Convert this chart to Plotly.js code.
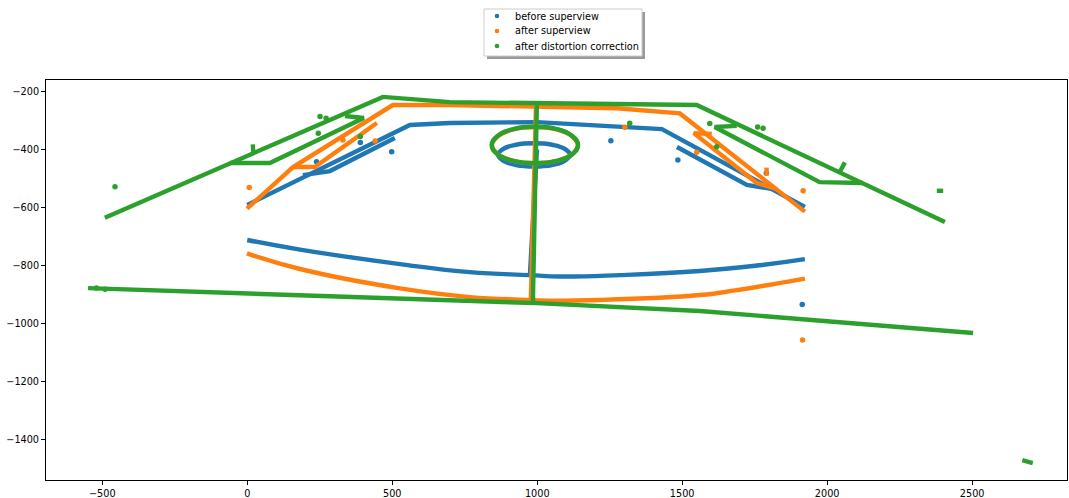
<!DOCTYPE html>
<html>
<head>
<meta charset="utf-8">
<script src="https://cdn.plot.ly/plotly-2.35.2.min.js"></script>
<style>
  html, body { margin: 0; padding: 0; background: #fff; }
  #chart { width: 1069px; height: 498px; }
</style>
</head>
<body>
<div id="chart"></div>
<script>
// ---- before superview ----
const blueOuterX = [0, 561, 699, 999, 1430, 1923];
const blueOuterY = [-591, -315, -308, -305, -329, -598];
const blueLeftBranchX = [192, 285, 509];
const blueLeftBranchY = [-488, -474, -360];
const blueRightBranchX = [1812, 1723, 1482];
const blueRightBranchY = [-536, -522, -391];
const blueVerticalX = [999, 975];
const blueVerticalY = [-400, -829];
const blueBottomX = [0, 182, 527, 768, 975, 1078, 1285, 1561, 1768, 1923];
const blueBottomY = [-712, -745, -795, -823, -833, -838, -833, -819, -799, -778];
const blueRingX = [1113, 1096, 1051, 989, 927, 882, 865, 882, 927, 989, 1051, 1096, 1113];
const blueRingY = [-418, -398, -383, -378, -383, -398, -418, -438, -453, -458, -453, -438, -418];
const blueDotX = [498, 1254, 1485, 1914, 239, 390, 1790];
const blueDotY = [-407, -369, -436, -935, -442, -375, -481];

// ---- after superview ----
const orangeOuterX = [-1, 158, 502, 699, 1274, 1492, 1923];
const orangeOuterY = [-604, -460, -246, -246, -257, -275, -614];
const orangeLeftBranchX = [158, 233, 447];
const orangeLeftBranchY = [-460, -460, -308];
const orangeRightBranchX = [1826, 1757, 1540, 1602];
const orangeRightBranchY = [-536, -515, -343, -346];
const orangeVerticalX = [996, 978];
const orangeVerticalY = [-243, -919];
const orangeBottomX = [-1, 182, 527, 768, 975, 1009, 1216, 1561, 1688, 1923];
const orangeBottomY = [-758, -812, -879, -909, -919, -921, -919, -902, -885, -845];
const orangeRingX = [1140, 1120, 1066, 992, 918, 864, 844, 864, 918, 992, 1066, 1120, 1140];
const orangeRingY = [-385, -354, -330, -322, -330, -354, -385, -416, -439, -447, -439, -416, -385];
const orangeSpurX = [1791, 1791];
const orangeSpurY = [-462, -490];
const orangeDotX = [7, 441, 1302, 1550, 1917, 1915, 330];
const orangeDotY = [-531, -370, -323, -409, -542, -1057, -367];

// ---- after distortion correction ----
const greenOuterX = [-491, 468, 699, 1550, 2406];
const greenOuterY = [-635, -218, -236, -246, -650];
const greenLeftBranchX = [-60, 78, 402, 337];
const greenLeftBranchY = [-446, -446, -291, -284];
const greenRightBranchX = [2123, 1974, 1612, 1688];
const greenRightBranchY = [-515, -512, -322, -318];
const greenVerticalX = [999, 985];
const greenVerticalY = [-232, -930];
const greenBottomX = [-549, 527, 999, 1561, 2503];
const greenBottomY = [-878, -912, -930, -957, -1033];
const greenRingX = [1141, 1121, 1067, 992, 918, 863, 843, 863, 918, 992, 1067, 1121, 1141];
const greenRingY = [-384, -353, -329, -321, -329, -353, -384, -416, -439, -447, -439, -416, -384];
const greenSpurAX = [19, 21];
const greenSpurAY = [-382, -412];
const greenSpurBX = [2043, 2061];
const greenSpurBY = [-478, -444];
const greenFarX = [2673, 2709];
const greenFarY = [-1472, -1482];
const greenDashX = [2378, 2400];
const greenDashY = [-542, -542];
const greenDotX = [-456, 251, 272, 245, 390, 1779, 1760, 1619, 1319, -520, -490, 1595];
const greenDotY = [-528, -286, -292, -343, -355, -326, -322, -390, -309, -878, -882, -310];

// legend labels
const seriesNames = ['before superview', 'after superview', 'after distortion correction'];
const seriesColors = ['#1f77b4', '#ff7f0e', '#2ca02c'];
const [C_BLUE, C_ORANGE, C_GREEN] = seriesColors;

// join several polylines into one trace, separated by gaps
function joinPaths(pairs) {
  const x = [], y = [];
  pairs.forEach(([px, py], i) => {
    if (i > 0) { x.push(null); y.push(null); }
    x.push(...px); y.push(...py);
  });
  return { x, y };
}

function pathTrace(pairs, color, name, shape) {
  const p = joinPaths(pairs);
  return {
    type: 'scatter', mode: 'lines', x: p.x, y: p.y, name,
    line: { color, width: 4.4, shape: shape || 'linear', smoothing: 1.3 },
    connectgaps: false, showlegend: false, hoverinfo: 'skip'
  };
}

function dotTrace(x, y, color, name) {
  return {
    type: 'scatter', mode: 'markers', x, y, name,
    marker: { color, size: 5.5 }, showlegend: false, hoverinfo: 'skip'
  };
}

const traces = [
  pathTrace([[blueOuterX, blueOuterY], [blueLeftBranchX, blueLeftBranchY],
             [blueRightBranchX, blueRightBranchY], [blueVerticalX, blueVerticalY]], C_BLUE, seriesNames[0]),
  pathTrace([[blueBottomX, blueBottomY], [blueRingX, blueRingY]], C_BLUE, seriesNames[0], 'spline'),
  dotTrace(blueDotX, blueDotY, C_BLUE, seriesNames[0]),
  pathTrace([[orangeOuterX, orangeOuterY], [orangeLeftBranchX, orangeLeftBranchY],
             [orangeRightBranchX, orangeRightBranchY], [orangeVerticalX, orangeVerticalY],
             [orangeSpurX, orangeSpurY]], C_ORANGE, seriesNames[1]),
  pathTrace([[orangeBottomX, orangeBottomY], [orangeRingX, orangeRingY]], C_ORANGE, seriesNames[1], 'spline'),
  dotTrace(orangeDotX, orangeDotY, C_ORANGE, seriesNames[1]),
  pathTrace([[greenOuterX, greenOuterY], [greenLeftBranchX, greenLeftBranchY],
             [greenRightBranchX, greenRightBranchY], [greenVerticalX, greenVerticalY],
             [greenBottomX, greenBottomY], [greenSpurAX, greenSpurAY], [greenSpurBX, greenSpurBY],
             [greenFarX, greenFarY], [greenDashX, greenDashY]], C_GREEN, seriesNames[2]),
  pathTrace([[greenRingX, greenRingY]], C_GREEN, seriesNames[2], 'spline'),
  dotTrace(greenDotX, greenDotY, C_GREEN, seriesNames[2])
];

// legend box above the plot, placed in paper coordinates
const plotL = 46, plotT = 80, plotW = 1021, plotH = 400;
const px = v => (v - plotL) / plotW;
const py = v => 1 + (plotT - v) / plotH;

const shapes = [
  { type: 'rect', xref: 'paper', yref: 'paper', x0: px(487), x1: px(645), y0: py(59), y1: py(12),
    fillcolor: '#9a9a9a', line: { width: 0 } },
  { type: 'rect', xref: 'paper', yref: 'paper', x0: px(484), x1: px(642), y0: py(56), y1: py(9),
    fillcolor: '#ffffff', line: { color: '#cccccc', width: 1 } }
];
const annotations = [];
const rowY = [16, 31, 46];
seriesNames.forEach((name, i) => {
  shapes.push({
    type: 'circle', xref: 'paper', yref: 'paper',
    xsizemode: 'pixel', ysizemode: 'pixel',
    xanchor: px(497), yanchor: py(rowY[i]),
    x0: -2.3, x1: 2.3, y0: -2.3, y1: 2.3,
    fillcolor: seriesColors[i], line: { width: 0 }
  });
  annotations.push({
    xref: 'paper', yref: 'paper', x: px(513), y: py(rowY[i]),
    xanchor: 'left', yanchor: 'middle', showarrow: false, text: name,
    font: { family: 'DejaVu Sans', size: 9.7, color: '#000' }
  });
});

const axisCommon = {
  showgrid: false, zeroline: false, showline: true, mirror: true,
  linecolor: '#000', linewidth: 1, ticks: 'outside', ticklen: 4,
  tickcolor: '#000', tickwidth: 1,
  tickfont: { family: 'DejaVu Sans', size: 9.7, color: '#000' }
};

const layout = {
  width: 1069, height: 498,
  margin: { l: plotL, r: 1069 - plotL - plotW, t: plotT, b: 498 - plotT - plotH, pad: 0 },
  paper_bgcolor: '#fff', plot_bgcolor: '#fff',
  font: { family: 'DejaVu Sans', size: 9.7, color: '#000' },
  xaxis: Object.assign({}, axisCommon, {
    range: [-694, 2827], tickvals: [-500, 0, 500, 1000, 1500, 2000, 2500]
  }),
  yaxis: Object.assign({}, axisCommon, {
    range: [-1540.4, -159.6], tickvals: [-1400, -1200, -1000, -800, -600, -400, -200]
  }),
  shapes, annotations,
  showlegend: false
};

Plotly.newPlot('chart', traces, layout, { staticPlot: true, displayModeBar: false });
</script>
</body>
</html>
